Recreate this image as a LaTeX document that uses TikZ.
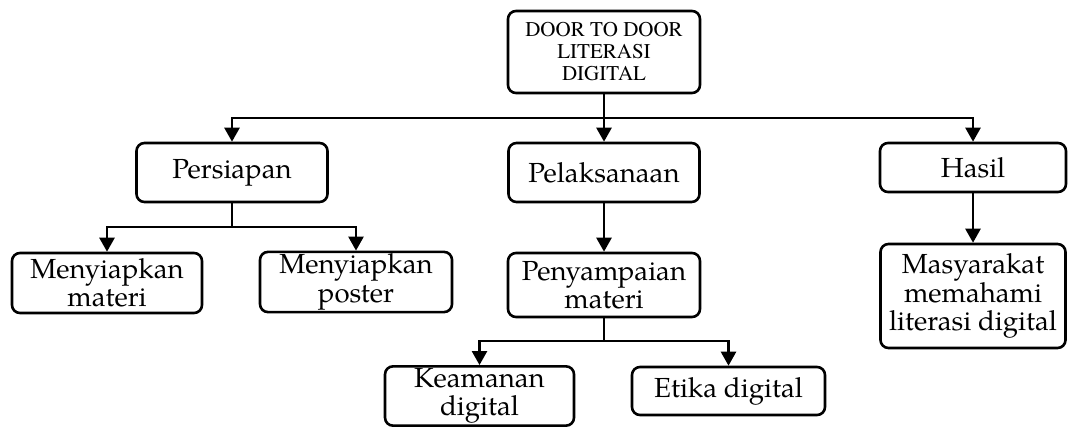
\documentclass[tikz,border=0pt]{standalone}
\usepackage{fontspec}
\setmainfont{texgyrepagella-regular.otf}
\newfontfamily\titlefont{texgyretermes-regular.otf}
\usetikzlibrary{arrows.meta, calc}
\tikzset{
  box/.style={draw=black, rectangle, rounded corners=4pt, align=center, inner sep=1pt, line width=1.3pt, font=\fontsize{13.8}{14.2}\selectfont, fill=white},
  titlebox/.style={box, font=\titlefont\fontsize{10.5}{11}\selectfont},
  arrow/.style={-{Triangle[width=7.5pt,length=7pt]}, line width=1.25pt, draw=black},
  link/.style={line width=1.25pt, draw=black}
}

\begin{document}
\begin{tikzpicture}[x=0.5pt, y=-0.5pt]
\useasboundingbox (0,0) rectangle (1068,428);

\node[titlebox, minimum width=96pt, minimum height=41pt] (title) at (604,52) {DOOR TO DOOR\\LITERASI\\DIGITAL};

\node[box, minimum width=95.5pt, minimum height=29.5pt] (persiapan) at (232,172.5) {Persiapan};
\node[box, minimum width=95.5pt, minimum height=29.5pt] (pelaksanaan) at (604,172.5) {Pelaksanaan};
\node[box, minimum width=93pt, minimum height=24.5pt] (hasil) at (973,167.5) {Hasil};

\node[box, minimum width=95pt, minimum height=30pt] (materi) at (107,283) {Menyiapkan\\materi};
\node[box, minimum width=96pt, minimum height=29pt] (poster) at (356,282) {Menyiapkan\\poster};
\node[box, minimum width=96pt, minimum height=32pt] (penyampaian) at (604,285) {Penyampaian\\materi};
\node[box, minimum width=92.5pt, minimum height=52pt] (masyarakat) at (973,296) {Masyarakat\\memahami\\literasi digital};

\node[box, minimum width=94.5pt, minimum height=29pt] (keamanan) at (479.5,396) {Keamanan\\digital};
\node[box, minimum width=96.5pt, minimum height=24pt] (etika) at (728.5,391) {Etika digital};

% branching points
\coordinate (split) at (604,118);
\coordinate (splitprep) at (232,227);
\coordinate (splitmat) at (604,341);

\draw[link] (title.south) -- (split);
\draw[arrow] (split) -- (pelaksanaan.north);
\draw[arrow] (split) -| (persiapan.north);
\draw[arrow] (split) -| (hasil.north);

\draw[link] (persiapan.south) -- (splitprep);
\draw[arrow] (splitprep) -| (materi.north);
\draw[arrow] (splitprep) -| (poster.north);

\draw[arrow] (pelaksanaan.south) -- (penyampaian.north);
\draw[link] (penyampaian.south) -- (splitmat);
\draw[arrow] (splitmat) -| (keamanan.north);
\draw[arrow] (splitmat) -| (etika.north);

\draw[arrow] (hasil.south) -- (masyarakat.north);

\end{tikzpicture}
\end{document}
